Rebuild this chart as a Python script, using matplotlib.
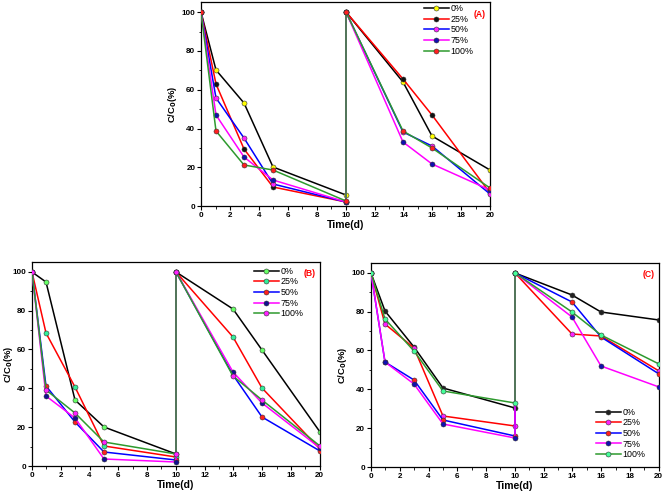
import matplotlib
matplotlib.use("Agg")
import matplotlib.pyplot as plt
from matplotlib.ticker import MultipleLocator

plt.rcParams['font.family'] = ['Liberation Sans', 'DejaVu Sans']

# sampling days (two cycles, second starts again at day 10)
days = [0, 1, 3, 5, 10, 10, 14, 16, 20]
labels = ['0%', '25%', '50%', '75%', '100%']

# panel A
a_0 = [100, 70, 53, 20, 5.5, 100, 64, 36, 18.5]
a_25 = [100, 63, 29.5, 10, 2, 100, 65.5, 47, 7]
a_50 = [100, 55.5, 35, 11.5, 2, 100, 38, 31, 6]
a_75 = [100, 47, 25.5, 13.5, 2, 100, 33, 21.5, 8.5]
a_100 = [100, 38.5, 21, 18.5, 2.5, 100, 38.5, 30, 9.5]

# panel B
b_0 = [100, 94.5, 34, 20, 6, 100, 81, 59.5, 17.5]
b_25 = [100, 68.5, 40.5, 10.5, 4.5, 100, 66.5, 40, 9]
b_50 = [100, 41, 22.5, 7, 3, 100, 47, 25, 8]
b_75 = [100, 36, 24.5, 3.5, 2, 100, 48.5, 32.5, 9.5]
b_100 = [100, 39, 27.5, 12.5, 6, 100, 46.5, 34, 10.5]

# panel C
c_0 = [100, 80.5, 62, 40.5, 30.5, 100, 88.5, 80, 75.5]
c_25 = [100, 73.5, 61, 26.5, 21, 100, 68.5, 67.5, 49.5]
c_50 = [100, 54, 45, 24, 16, 100, 85, 67, 48]
c_75 = [100, 54, 42.5, 22, 15, 100, 77, 52, 41]
c_100 = [100, 76, 59.5, 39, 33, 100, 80, 68, 53]

line_colors = ['black', '#ff0000', '#0000ff', '#ff00ff', '#2e9a2e']
mk_A = ['#ffff00', '#111111', '#ff22ff', '#1010b0', '#ff2020']
mk_B = ['#66ff66', '#33ee99', '#ff2020', '#101090', '#ff22ff']
mk_C = ['#222222', '#ff22ff', '#ff2020', '#1010b0', '#44ff99']

fig = plt.figure(figsize=(6.66, 4.99), dpi=100)


def panel(rect, series, mcols, tag, leg_loc, leg_anchor, ylab_x):
    ax = fig.add_axes(rect)
    for i, (vals, lc, mc, lab) in enumerate(zip(series, line_colors, mcols, labels)):
        # snap keeps the vertical jump at day 10 on whole pixels
        ax.plot(days, vals, color=lc, lw=1.1, marker='o', ms=3.6,
                mfc=mc, mec='#333333', mew=0.4, label=lab, zorder=2 + i,
                snap=True)
    ax.set_xlim(0, 20)
    ax.set_ylim(0, 105)
    ax.xaxis.set_major_locator(MultipleLocator(2))
    ax.xaxis.set_minor_locator(MultipleLocator(1))
    ax.yaxis.set_major_locator(MultipleLocator(20))
    ax.yaxis.set_minor_locator(MultipleLocator(10))
    ax.tick_params(which='major', direction='out', length=3, width=0.8,
                   labelsize=5.8, pad=1.2)
    ax.tick_params(which='minor', direction='out', length=1.8, width=0.6)
    for t in ax.get_xticklabels() + ax.get_yticklabels():
        t.set_fontweight('bold')
    for s in ax.spines.values():
        s.set_linewidth(0.9)
    ax.set_xlabel('Time(d)', fontsize=7.5, fontweight='bold', labelpad=1)
    ax.set_ylabel('C/C$_\\mathbf{0}$(%)', fontsize=6.8, fontweight='bold')
    ax.yaxis.set_label_coords(ylab_x, 0.5)
    ax.legend(loc=leg_loc, bbox_to_anchor=leg_anchor, frameon=False,
              fontsize=6.4, handlelength=2.8, handletextpad=0.2,
              labelspacing=0.18, borderpad=0.2, borderaxespad=0)
    ax.text(0.985, 0.965, tag, transform=ax.transAxes, color='red',
            fontsize=6.2, fontweight='bold', ha='right', va='top')
    return ax


panel([0.302, 0.587, 0.434, 0.408], [a_0, a_25, a_50, a_75, a_100],
      mk_A, '(A)', 'upper left', (0.765, 1.0), -0.075)
panel([0.048, 0.066, 0.432, 0.409], [b_0, b_25, b_50, b_75, b_100],
      mk_B, '(B)', 'upper left', (0.765, 0.985), -0.06)
panel([0.557, 0.064, 0.432, 0.409], [c_0, c_25, c_50, c_75, c_100],
      mk_C, '(C)', 'lower left', (0.775, 0.03), -0.075)

fig.savefig('out.png', dpi=100)
